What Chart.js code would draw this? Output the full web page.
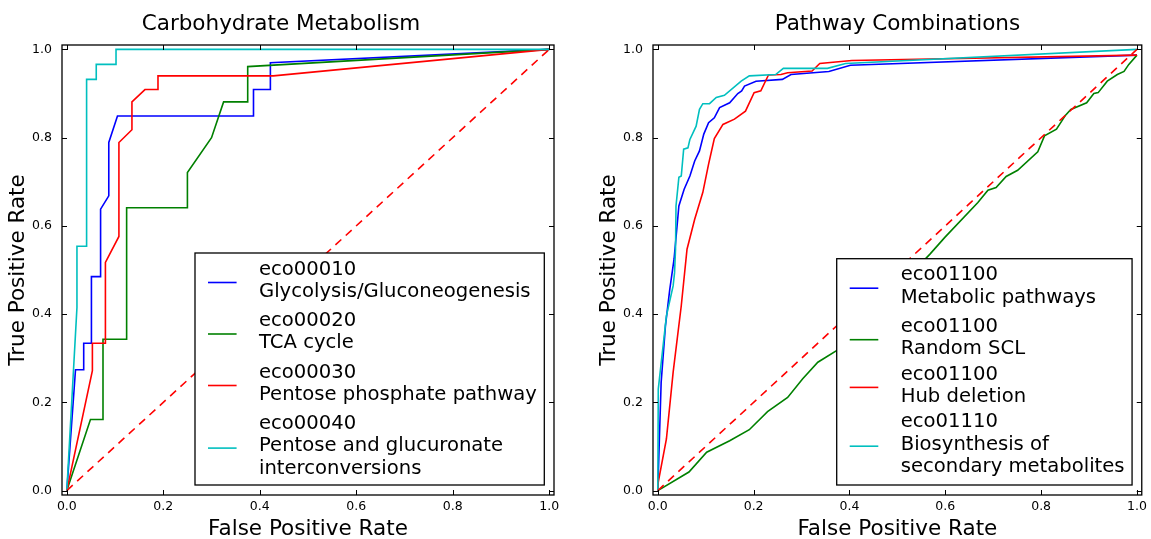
<!DOCTYPE html>
<html>
<script src="https://cdn.jsdelivr.net/npm/chart.js@4.4.0/dist/chart.umd.min.js"></script>
<body style="margin:0;background:#fff">

<div style="position:absolute;left:0;top:0;width:575px;height:539px"><canvas id="leftChart" width="575" height="539"></canvas></div>
<div style="position:absolute;left:575px;top:0;width:576px;height:539px"><canvas id="rightChart" width="576" height="539"></canvas></div>

<script>
    // ticks shared by both panels
    const tickValues = [0, 0.2, 0.4, 0.6, 0.8, 1.0];

    // ---- Carbohydrate Metabolism ----
    const glycoFpr = [0, 0.018, 0.035, 0.035, 0.051, 0.051, 0.070, 0.070, 0.087, 0.087, 0.105, 0.387, 0.387, 0.422, 0.422, 1];
    const glycoTpr = [0, 0.274, 0.274, 0.334, 0.334, 0.485, 0.485, 0.638, 0.668, 0.789, 0.849, 0.849, 0.909, 0.909, 0.970, 1];

    const tcaFpr = [0, 0.049, 0.075, 0.075, 0.124, 0.124, 0.250, 0.250, 0.300, 0.325, 0.375, 0.375, 1];
    const tcaTpr = [0, 0.161, 0.161, 0.343, 0.343, 0.641, 0.641, 0.721, 0.800, 0.881, 0.881, 0.961, 1];

    const pppFpr = [0, 0.053, 0.053, 0.080, 0.080, 0.108, 0.108, 0.135, 0.135, 0.162, 0.189, 0.189, 0.428, 1];
    const pppTpr = [0, 0.272, 0.334, 0.334, 0.517, 0.576, 0.789, 0.818, 0.881, 0.909, 0.909, 0.940, 0.940, 1];

    const pgiFpr = [0, 0.021, 0.021, 0.041, 0.041, 0.061, 0.061, 0.102, 0.102, 1];
    const pgiTpr = [0, 0.415, 0.554, 0.554, 0.932, 0.932, 0.966, 0.966, 1, 1];

    const leftLabels = [
        ["eco00010", "Glycolysis/Gluconeogenesis"],
        ["eco00020", "TCA cycle"],
        ["eco00030", "Pentose phosphate pathway"],
        ["eco00040", "Pentose and glucuronate", "interconversions"]
    ];

    // ---- Pathway Combinations ----
    const metabFpr = [0, 0.007, 0.016, 0.025, 0.034, 0.044, 0.055, 0.067, 0.077, 0.087, 0.096, 0.106, 0.118, 0.129, 0.150, 0.167, 0.175, 0.181, 0.205, 0.260, 0.278, 0.357, 0.402, 1.0];
    const metabTpr = [0, 0.245, 0.374, 0.456, 0.525, 0.645, 0.683, 0.713, 0.747, 0.770, 0.808, 0.834, 0.845, 0.868, 0.879, 0.900, 0.906, 0.917, 0.928, 0.932, 0.943, 0.950, 0.964, 0.987];

    const randFpr = [0, 0.065, 0.102, 0.150, 0.191, 0.229, 0.271, 0.302, 0.334, 0.373, 0.568, 0.599, 0.668, 0.689, 0.706, 0.727, 0.751, 0.793, 0.807, 0.832, 0.851, 0.862, 0.895, 0.910, 0.919, 0.938, 0.959, 0.973, 0.983, 1.0];
    const randTpr = [0, 0.042, 0.087, 0.113, 0.138, 0.179, 0.211, 0.253, 0.291, 0.317, 0.536, 0.574, 0.653, 0.681, 0.687, 0.712, 0.726, 0.768, 0.804, 0.819, 0.851, 0.864, 0.879, 0.900, 0.902, 0.928, 0.943, 0.950, 0.966, 0.987];

    const hubFpr = [0, 0.001, 0.018, 0.032, 0.049, 0.061, 0.077, 0.094, 0.106, 0.118, 0.136, 0.160, 0.183, 0.201, 0.215, 0.231, 0.257, 0.271, 0.322, 0.338, 0.405, 1.0];
    const hubTpr = [0, 0.019, 0.117, 0.268, 0.419, 0.547, 0.615, 0.676, 0.740, 0.798, 0.830, 0.842, 0.860, 0.902, 0.906, 0.942, 0.943, 0.947, 0.951, 0.968, 0.975, 0.987];

    const bioFpr = [0, 0.001, 0.018, 0.032, 0.035, 0.037, 0.038, 0.044, 0.049, 0.054, 0.063, 0.067, 0.080, 0.087, 0.094, 0.108, 0.122, 0.139, 0.174, 0.191, 0.246, 0.262, 0.354, 0.392, 1.0];
    const bioTpr = [0, 0.230, 0.396, 0.464, 0.494, 0.547, 0.645, 0.710, 0.713, 0.774, 0.777, 0.796, 0.826, 0.864, 0.877, 0.877, 0.891, 0.896, 0.928, 0.940, 0.943, 0.957, 0.957, 0.968, 1.0];

    const rightLabels = [
        ["eco01100", "Metabolic pathways"],
        ["eco01100", "Random SCL"],
        ["eco01100", "Hub deletion"],
        ["eco01110", "Biosynthesis of", "secondary metabolites"]
    ];

    const chanceFpr = [0, 1];
    const chanceTpr = [0, 1];

    const colors = ["#0000ff", "#008000", "#ff0000", "#00bfbf"];
    const FONT = '"DejaVu Sans", sans-serif';

    Chart.defaults.font.family = FONT;
    Chart.defaults.color = "#000";

    const pts = (xs, ys) => xs.map((x, i) => ({x: x, y: ys[i]}));

    // box + inward ticks on all four sides, like the original axes
    const frameTicks = {
        id: "frameTicks",
        afterDatasetsDraw(chart) {
            const {ctx, chartArea: a, scales} = chart;
            ctx.save();
            ctx.strokeStyle = "#000";
            ctx.lineWidth = 1;
            ctx.beginPath();
            tickValues.forEach(v => {
                const px = Math.round(scales.x.getPixelForValue(v)) + 0.5;
                const py = Math.round(scales.y.getPixelForValue(v)) + 0.5;
                ctx.moveTo(px, a.bottom); ctx.lineTo(px, a.bottom - 5);
                ctx.moveTo(px, a.top); ctx.lineTo(px, a.top + 5);
                ctx.moveTo(a.left, py); ctx.lineTo(a.left + 5, py);
                ctx.moveTo(a.right, py); ctx.lineTo(a.right - 5, py);
            });
            ctx.stroke();
            ctx.lineWidth = 1.3;
            ctx.strokeRect(a.left, a.top, a.right - a.left, a.bottom - a.top);
            ctx.restore();
        }
    };

    // legend box in the lower right corner of the axes
    const boxLegend = {
        id: "boxLegend",
        afterDraw(chart) {
            const {ctx, chartArea: a} = chart;
            const items = chart.data.datasets.filter(d => d.legendLines);
            ctx.save();
            ctx.font = "19.6px " + FONT;
            let textW = 0;
            const centers = [];
            let c = 0;
            items.forEach((d, k) => {
                const cs = [];
                d.legendLines.forEach((line, j) => {
                    textW = Math.max(textW, ctx.measureText(line).width);
                    if (j > 0) c += 22.2;
                    cs.push(c);
                });
                centers.push(cs);
                const last = d.legendLines[d.legendLines.length - 1];
                c += /[gjpqy]/.test(last) ? 29.3 : 25.5;
            });
            const lastItem = items[items.length - 1].legendLines;
            const lastDesc = /[gjpqy]/.test(lastItem[lastItem.length - 1]);
            const lastC = centers[centers.length - 1][centers[centers.length - 1].length - 1];
            const h = 16.7 + lastC + (lastDesc ? 18.3 : 16.4);
            const w = 13 + 28.6 + 22.4 + textW + 7.5;
            const right = a.right - 9.7, bottom = a.bottom - 10;
            const left = right - w, top = bottom - h;

            ctx.fillStyle = "#fff";
            ctx.fillRect(left, top, w, h);
            ctx.strokeStyle = "#000";
            ctx.lineWidth = 1.3;
            ctx.strokeRect(left, top, w, h);

            ctx.textBaseline = "middle";
            ctx.textAlign = "left";
            ctx.fillStyle = "#000";
            items.forEach((d, k) => {
                const cs = centers[k];
                cs.forEach((cy, j) => ctx.fillText(d.legendLines[j], left + 64, top + 16.7 + cy));
                const mid = top + 16.7 + (cs[0] + cs[cs.length - 1]) / 2 + 1.7;
                ctx.strokeStyle = d.borderColor;
                ctx.lineWidth = 1.6;
                ctx.beginPath();
                ctx.moveTo(left + 13, mid);
                ctx.lineTo(left + 41.6, mid);
                ctx.stroke();
            });
            ctx.restore();
        }
    };

    function rocChart(canvasId, titleText, series, labels, cfg) {
        const datasets = series.map((s, i) => ({
            data: pts(s[0], s[1]),
            legendLines: labels[i],
            borderColor: colors[i],
            borderWidth: 1.6,
            showLine: true,
            pointRadius: 0,
            tension: 0,
            fill: false,
            order: 10 - i
        }));
        datasets.push({
            data: pts(chanceFpr, chanceTpr),
            borderColor: "#ff0000",
            borderWidth: 1.6,
            borderDash: [8, 6],
            showLine: true,
            pointRadius: 0,
            fill: false,
            order: 0
        });

        const axisTicks = {
            color: "#000",
            font: {size: 12.5},
            autoSkip: false,
            maxRotation: 0,
            callback: v => v.toFixed(1)
        };

        return new Chart(document.getElementById(canvasId), {
            type: "scatter",
            data: {datasets: datasets},
            options: {
                responsive: false,
                animation: false,
                layout: {padding: cfg.padding},
                plugins: {
                    legend: {display: false},
                    tooltip: {enabled: false},
                    title: {
                        display: true,
                        text: titleText,
                        fullSize: cfg.fullTitle,
                        color: "#000",
                        font: {size: 21.5, weight: "normal", lineHeight: 1.2},
                        padding: {top: 12, bottom: 7.2}
                    }
                },
                scales: {
                    x: {
                        type: "linear",
                        min: -0.01,
                        max: 1.01,
                        afterBuildTicks: s => { s.ticks = tickValues.map(v => ({value: v})); },
                        afterFit: s => { s.height = 44; },
                        grid: {display: false, drawTicks: false},
                        border: {display: false},
                        ticks: Object.assign({padding: 4}, axisTicks),
                        title: {
                            display: true,
                            text: "False Positive Rate",
                            color: "#000",
                            font: {size: 21.5, lineHeight: 0.88},
                            padding: {top: 0, bottom: 0}
                        }
                    },
                    y: {
                        type: "linear",
                        min: -0.01,
                        max: 1.01,
                        afterBuildTicks: s => { s.ticks = tickValues.map(v => ({value: v})); },
                        afterFit: s => { s.width = cfg.yWidth; },
                        grid: {display: false, drawTicks: false},
                        border: {display: false},
                        ticks: Object.assign({padding: 10}, axisTicks),
                        title: {
                            display: true,
                            text: "True Positive Rate",
                            color: "#000",
                            font: {size: 21.5, lineHeight: 0.88},
                            padding: {top: cfg.yTitlePad, bottom: 0}
                        }
                    }
                }
            },
            plugins: [frameTicks, boxLegend]
        });
    }

    rocChart("leftChart", "Carbohydrate Metabolism",
        [[glycoFpr, glycoTpr], [tcaFpr, tcaTpr], [pppFpr, pppTpr], [pgiFpr, pgiTpr]],
        leftLabels,
        {padding: {left: 8, right: 21, top: 0, bottom: 0}, yWidth: 54, yTitlePad: 1, fullTitle: true});

    rocChart("rightChart", "Pathway Combinations",
        [[metabFpr, metabTpr], [randFpr, randTpr], [hubFpr, hubTpr], [bioFpr, bioTpr]],
        rightLabels,
        {padding: {left: 0, right: 6, top: 0, bottom: 0}, yWidth: 78, yTitlePad: 25, fullTitle: false});
</script>

</body>
</html>
